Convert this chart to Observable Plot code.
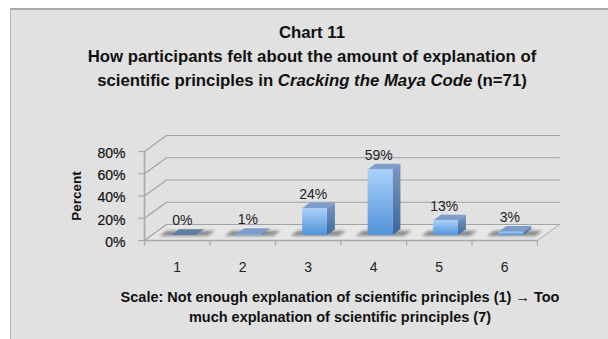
<!DOCTYPE html>
<html>
<head>
<meta charset="utf-8">
<script src="https://cdn.jsdelivr.net/npm/d3@7"></script>
<script src="https://cdn.jsdelivr.net/npm/@observablehq/plot@0.6"></script>
<style>
  html, body { margin: 0; padding: 0; background: #fff; }
  body { width: 608px; height: 339px; overflow: hidden; position: relative; font-family: "Liberation Sans", Arial, sans-serif; color: #111; }
  #panel { position: absolute; left: 10px; top: 8px; width: 598px; height: 331px; background: #e1e1e1; border-top: 2px solid #a8a8a8; border-left: 1.5px solid #b4b4b4; box-sizing: border-box; }
  #title, #caption { position: absolute; text-align: center; font-weight: bold; white-space: nowrap; }
  #title { left: 12px; width: 600px; top: 21px; font-size: 16.75px; line-height: 24px; }
  #caption { left: 40px; width: 600px; top: 287px; font-size: 14.5px; line-height: 20px; }
  #chart { position: absolute; left: 0; top: 120px; }
</style>
</head>
<body>
<div id="panel"></div>
<div id="title">Chart 11<br>How participants felt about the amount of explanation of<br>scientific principles in <i>Cracking the Maya Code</i> (n=71)</div>
<div id="chart"></div>
<div id="caption">Scale: Not enough explanation of scientific principles (1) → Too<br>much explanation of scientific principles (7)</div>
<script>
// Survey responses on the seven-point scale; 7 received no answers and is not drawn.
const ratings = [1, 2, 3, 4, 5, 6];
const percents = [0, 1, 24, 59, 13, 3];
const valueLabels = ["0%", "1%", "24%", "59%", "13%", "3%"];
const percentTicks = [0, 20, 40, 60, 80];

// Oblique projection of the floor: how far the back wall sits from the front edge.
const depthX = 0.336;   // in rating units
const depthY = 14.4;    // in percent units
const barHalf = 0.19;
const barDepth = 0.36;  // share of the full floor depth
const barFront = 0.31;  // where the bar's front face stands within the floor

const xLeft = 0.5, xRight = 6.5;
const rows = ratings.map((r, i) => ({r, v: percents[i], label: valueLabels[i]}));

// Faces of a bar expressed in chart units, ready for an area mark.
const liftX = t => t * depthX;
const liftY = t => t * depthY;
const wall = (x0, x1, t0, t1, v0, v1) => [
  {x: x0 + liftX(t0), y1: v0 + liftY(t0), y2: v1 + liftY(t0)},
  {x: x1 + liftX(t1), y1: v0 + liftY(t1), y2: v1 + liftY(t1)}
];
const lid = (x0, x1, t0, t1, v) => [
  {x: x0 + liftX(t0), y1: v + liftY(t0), y2: v + liftY(t0)},
  {x: x0 + liftX(t1), y1: v + liftY(t0), y2: v + liftY(t1)},
  {x: x1 + liftX(t0), y1: v + liftY(t0), y2: v + liftY(t1)},
  {x: x1 + liftX(t1), y1: v + liftY(t1), y2: v + liftY(t1)}
];
const areaOpts = fill => ({x: "x", y1: "y1", y2: "y2", fill});

const defs = () => {
  const svg = d3.create("svg:defs");
  const grad = (id, stops) => {
    const g = svg.append("linearGradient").attr("id", id).attr("x1", 0).attr("y1", 0).attr("x2", 0).attr("y2", 1);
    stops.forEach(([o, c]) => g.append("stop").attr("offset", o).attr("stop-color", c));
  };
  grad("barFront", [[0, "#a9d1fb"], [1, "#5193d8"]]);
  grad("barSide", [[0, "#7b98bf"], [1, "#39699f"]]);
  return svg.node();
};

const marks = [defs];

// Floor
marks.push(Plot.areaY(lid(xLeft, xRight, 0, 1, 0), areaOpts("#e7e7e7")));

// Back wall gridlines with their slanted returns onto the side wall
for (const t of percentTicks) {
  marks.push(Plot.line([{x: xLeft, y: t}, {x: xLeft + depthX, y: t + depthY}, {x: xRight + depthX, y: t + depthY}],
    {x: "x", y: "y", stroke: "#a3a3a3", strokeWidth: 1.2}));
}
marks.push(Plot.line([{x: xRight, y: 0}, {x: xRight + depthX, y: depthY}], {x: "x", y: "y", stroke: "#a8a8a8", strokeWidth: 1}));

// Front axis lines and ticks
marks.push(Plot.ruleX([xLeft], {y1: 0, y2: 80, stroke: "#a8a8a8", strokeWidth: 1.6}));
marks.push(Plot.ruleY([0], {x1: xLeft, x2: xRight, stroke: "#a8a8a8", strokeWidth: 1.6}));
marks.push(Plot.ruleX(d3.range(0, 7).map(i => xLeft + i), {y1: -5, y2: 0, stroke: "#a8a8a8", strokeWidth: 1.2}));
marks.push(Plot.ruleY(percentTicks, {x1: xLeft - 0.09, x2: xLeft, stroke: "#a8a8a8", strokeWidth: 1.2}));

// Bars: ground shadow, side face, top face, front face
for (const d of rows) {
  const x0 = d.r - barHalf, x1 = d.r + barHalf;
  marks.push(Plot.areaY(lid(x0 - 0.16, x1 + 0.2, barFront * 0.8, barFront + barDepth * 0.75, 0),
    {...areaOpts("#8a8a8a"), imageFilter: "blur(1.4px)"}));
  marks.push(Plot.areaY(wall(x1, x1, barFront, barFront + barDepth, 0, d.v), areaOpts("url(#barSide)")));
  marks.push(Plot.areaY(lid(x0, x1, barFront, barFront + barDepth, d.v), areaOpts(d.r === 1 ? "#5f7ea6" : "#7c9ccb")));
  if (d.v > 0) {
    marks.push(Plot.areaY(wall(x0, x1, barFront, barFront, 0, d.v), areaOpts("url(#barFront)")));
  }
}

// Value labels above each bar
marks.push(Plot.text(rows, {
  x: "r",
  y: d => d.v + liftY(barFront + barDepth),
  text: "label", dx: 5, dy: -9, fontSize: 14, fill: "#222"
}));

// Axis labels
marks.push(Plot.text(percentTicks, {x: () => xLeft, y: d => d, text: d => d + "%", textAnchor: "end", dx: -19, dy: 2, fontSize: 14, fill: "#111", stroke: "#111", strokeWidth: 0.2}));
marks.push(Plot.text(rows, {x: "r", y: () => 0, text: d => String(d.r), dy: 27, fontSize: 14, fill: "#222"}));
marks.push(Plot.text(["Percent"], {x: () => xLeft - 1.04, y: () => 40, text: d => d, rotate: -90, fontSize: 13.5, fontWeight: "bold", fill: "#111"}));

document.getElementById("chart").append(Plot.plot({
  width: 608, height: 160, marginTop: 0, marginLeft: 144, marginRight: 71, marginBottom: 40,
  style: {background: "transparent", fontFamily: "'Liberation Sans', Arial, sans-serif", overflow: "visible"},
  x: {domain: [xLeft, xRight], axis: null},
  y: {domain: [0, 107.9], axis: null},
  marks
}));
</script>
</body>
</html>
